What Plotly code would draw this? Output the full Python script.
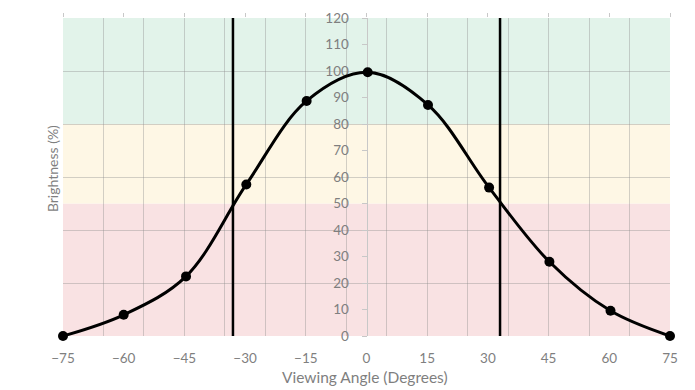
import plotly.graph_objects as go

# ---- data ----
angles = [-75, -60, -44.6, -29.7, -14.8, 0.3, 15.2, 30.3, 45.2, 60.3, 75]
brightness = [0, 8, 22.5, 57.2, 88.7, 99.5, 87.2, 56, 28, 9.5, 0]
limit_angles = [-33, 33]
x_ticks = [-75, -60, -45, -30, -15, 0, 15, 30, 45, 60, 75]
y_ticks = [0, 10, 20, 30, 40, 50, 60, 70, 80, 90, 100, 110, 120]
band_edges = [0, 50, 80, 120]
band_colors = ["#f9e2e3", "#fef7e5", "#e2f3ea"]

FONT = "Lato"
GREY = "#7f7f7f"

fig = go.Figure()

# background bands
for lo, hi, c in zip(band_edges[:-1], band_edges[1:], band_colors):
    fig.add_shape(type="rect", xref="paper", yref="y", x0=0, x1=1, y0=lo, y1=hi,
                  fillcolor=c, line_width=0, layer="below")

# helper traces for overlay axes (grid / top ticks)
fig.add_trace(go.Scatter(x=[None], y=[None], xaxis="x3", yaxis="y2", showlegend=False, hoverinfo="skip"))
fig.add_trace(go.Scatter(x=[None], y=[None], xaxis="x2", yaxis="y", showlegend=False, hoverinfo="skip"))

# limit lines
for a in limit_angles:
    fig.add_trace(go.Scatter(x=[a, a], y=[y_ticks[0], y_ticks[-1]], mode="lines",
                             line=dict(color="black", width=2.5), showlegend=False, hoverinfo="skip"))

# curve
fig.add_trace(go.Scatter(x=angles, y=brightness, mode="lines+markers",
                         line=dict(color="black", width=3, shape="spline", smoothing=1.0),
                         marker=dict(color="black", size=10),
                         cliponaxis=False, showlegend=False))

gridc = "rgba(140,140,140,0.38)"
fig.update_layout(
    width=695, height=390,
    margin=dict(l=63, r=25, t=18, b=54, autoexpand=False),
    paper_bgcolor="white", plot_bgcolor="rgba(0,0,0,0)",
    font=dict(family=FONT, color=GREY, size=13),
    xaxis=dict(range=[-75, 75], tickvals=x_ticks, showgrid=False, zeroline=False,
               ticks="", ticklabelstandoff=12, tickfont=dict(size=13.5, color=GREY),
               domain=[0, 1], automargin=False),
    xaxis2=dict(overlaying="x", matches="x", side="top", anchor="y", tickvals=x_ticks,
                showticklabels=False, ticks="outside", ticklen=4, tickcolor="#c8c8c8",
                showgrid=False, zeroline=False, automargin=False),
    xaxis3=dict(overlaying="x", matches="x", anchor="y2", tick0=-75, dtick=10,
                showticklabels=False, ticks="", showgrid=True, gridcolor=gridc, gridwidth=1,
                zeroline=False, automargin=False),
    yaxis=dict(range=[0, 120], tickvals=y_ticks, showgrid=False, zeroline=False,
               anchor="free", position=0.5, showline=True, linecolor="#c8c8c8", linewidth=1,
               ticks="outside", ticklen=5, tickcolor="#c8c8c8", ticklabelstandoff=10,
               tickfont=dict(size=13.5, color=GREY), automargin=False, layer="below traces"),
    yaxis2=dict(overlaying="y", matches="y", anchor="x3", dtick=20, tick0=0,
                showticklabels=False, ticks="", showgrid=True, gridcolor=gridc, gridwidth=1,
                zeroline=False, automargin=False),
    annotations=[
        dict(text="Brightness (%)", xref="paper", yref="paper", x=-0.018, y=0.525,
             textangle=-90, showarrow=False, xanchor="center", yanchor="middle",
             font=dict(size=14, color=GREY, family=FONT)),
        dict(text="Viewing Angle (Degrees)", xref="paper", yref="paper", x=0.497, y=-0.13,
             showarrow=False, xanchor="center", yanchor="middle",
             font=dict(size=15.5, color=GREY, family=FONT)),
    ],
)

fig.write_html("out.html", config={"displayModeBar": False},
               post_script="document.body.style.margin='0px';document.body.style.overflow='hidden';")
